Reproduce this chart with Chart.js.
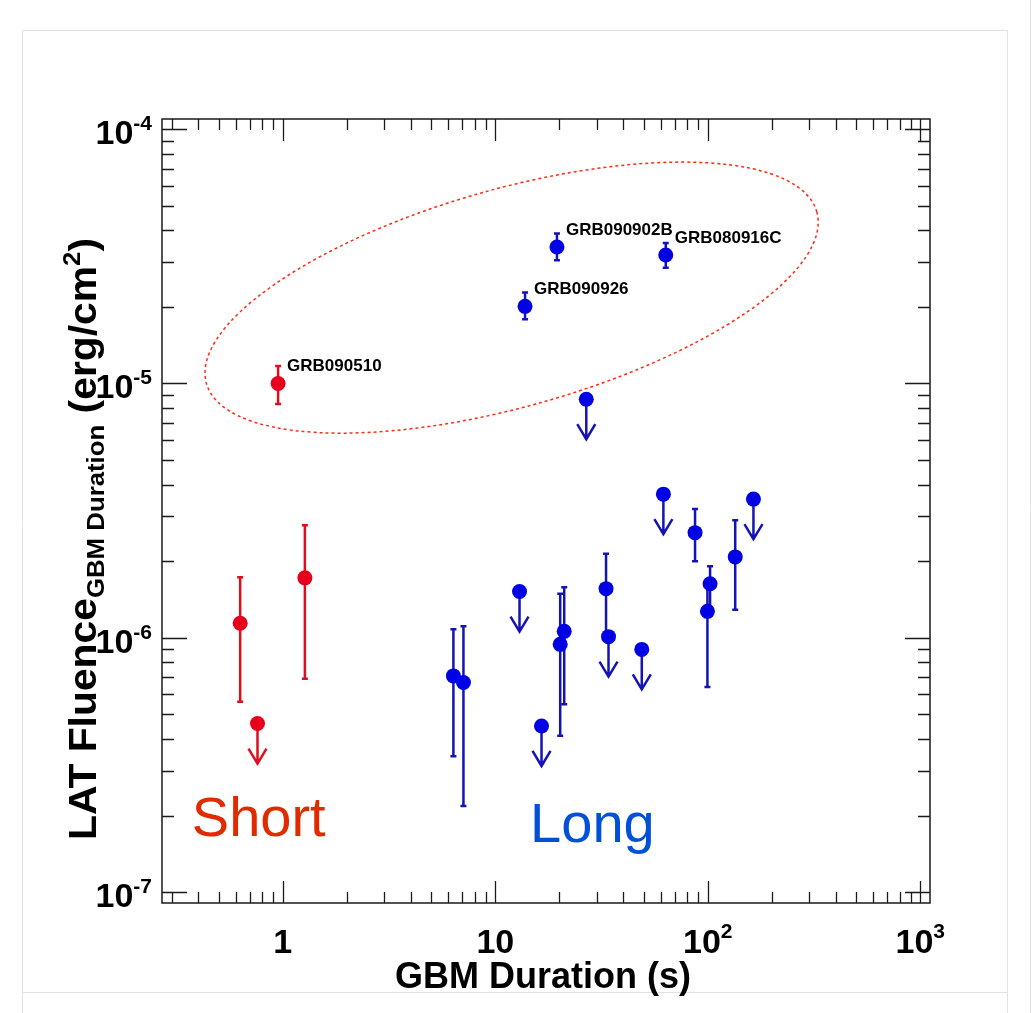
<!DOCTYPE html>
<html><head><meta charset="utf-8">
<script src="https://cdn.jsdelivr.net/npm/chart.js@4.4.1/dist/chart.umd.min.js"></script>
<style>html,body{margin:0;padding:0;background:#fff;overflow:hidden}canvas{display:block}</style>
</head><body>
<canvas id="c" width="1036" height="1013"></canvas>
<script>
// ---------------- data ----------------
const shortDuration    = [0.95, 0.63, 1.27];
const shortFluence     = [1.0e-5, 1.14e-6, 1.72e-6];
const shortFluenceLow  = [8.3e-6, 5.6e-7, 6.9e-7];
const shortFluenceHigh = [1.17e-5, 1.73e-6, 2.77e-6];
const shortNames       = ['GRB090510', '', ''];
const shortLimitDuration = [0.76];
const shortLimitFluence  = [4.6e-7];

const longDuration     = [19.5, 63.4, 13.8, 6.35, 7.08, 20.2, 21.1, 33.2, 87.1, 102.5, 99.6, 134.6];
const longFluence      = [3.44e-5, 3.20e-5, 2.01e-5, 7.08e-7, 6.67e-7, 9.42e-7, 1.06e-6, 1.56e-6, 2.59e-6, 1.63e-6, 1.27e-6, 2.08e-6];
const longFluenceLow   = [3.05e-5, 2.85e-5, 1.79e-5, 3.42e-7, 2.18e-7, 4.12e-7, 5.48e-7, 1.0e-6, 2.0e-6, 1.27e-6, 6.4e-7, 1.29e-6];
const longFluenceHigh  = [3.89e-5, 3.57e-5, 2.28e-5, 1.08e-6, 1.11e-6, 1.49e-6, 1.58e-6, 2.14e-6, 3.21e-6, 1.91e-6, 1.6e-6, 2.9e-6];
const longNames        = ['GRB090902B', 'GRB080916C', 'GRB090926', '', '', '', '', '', '', '', '', ''];
const longLimitDuration = [26.8, 13.0, 16.5, 34.1, 48.9, 61.8, 164];
const longLimitFluence  = [8.67e-6, 1.52e-6, 4.5e-7, 1.01e-6, 9.0e-7, 3.67e-6, 3.51e-6];

const xTickValues = [1, 10, 100, 1000];
const xTickLabels = [['1', ''], ['10', ''], ['10', '2'], ['10', '3']];
const yTickValues = [1e-7, 1e-6, 1e-5, 1e-4];
const yTickLabels = [['10', '-7'], ['10', '-6'], ['10', '-5'], ['10', '-4']];
const xRange = [0.27, 1111];
const yRange = [9.06e-8, 1.096e-4];
const groupLabels = ['Short', 'Long'];
const groupLabelAt = [[0.373, 1.66e-7], [14.58, 1.58e-7]];
const ellipseCenter = [11.93, 2.175e-5];

// ---------------- styles ----------------
const FONT = '"Liberation Sans", Arial, Helvetica, sans-serif';
const RED = '#e6001c', RED_LINE = '#dc0f1e';
const BLUE = '#0000e4', BLUE_LINE = '#1414b4';

function pts(xs, ys) { return xs.map((x, i) => ({x: x, y: ys[i]})); }

const overlay = {
  id: 'overlay',
  beforeDraw(chart) {
    const ctx = chart.ctx;
    ctx.save();
    ctx.fillStyle = '#fff';
    ctx.fillRect(0, 0, chart.width, chart.height);
    ctx.strokeStyle = '#e2e2e2';
    ctx.lineWidth = 1;
    ctx.beginPath();
    ctx.moveTo(22.5, 1013); ctx.lineTo(22.5, 30.5); ctx.lineTo(1007.5, 30.5); ctx.lineTo(1007.5, 1013);
    ctx.moveTo(22.5, 992.5); ctx.lineTo(1007.5, 992.5);
    ctx.moveTo(1030.5, 0); ctx.lineTo(1030.5, 1013);
    ctx.stroke();
    ctx.restore();
  },
  beforeDatasetsDraw(chart) {
    const ctx = chart.ctx, xs = chart.scales.x, ys = chart.scales.y;
    ctx.save();
    ctx.lineWidth = 2.5;
    function bars(dur, lo, hi, col) {
      ctx.strokeStyle = col;
      dur.forEach((d, i) => {
        const x = xs.getPixelForValue(d);
        const y1 = ys.getPixelForValue(lo[i]), y2 = ys.getPixelForValue(hi[i]);
        ctx.beginPath();
        ctx.moveTo(x, y1); ctx.lineTo(x, y2);
        ctx.moveTo(x - 3, y1); ctx.lineTo(x + 3, y1);
        ctx.moveTo(x - 3, y2); ctx.lineTo(x + 3, y2);
        ctx.stroke();
      });
    }
    function arrows(dur, flu, col) {
      ctx.strokeStyle = col;
      dur.forEach((d, i) => {
        const x = xs.getPixelForValue(d), y = ys.getPixelForValue(flu[i]);
        const t = y + 40;
        ctx.beginPath();
        ctx.moveTo(x, y); ctx.lineTo(x, t);
        ctx.moveTo(x - 9, t - 15); ctx.lineTo(x, t); ctx.lineTo(x + 9, t - 15);
        ctx.stroke();
      });
    }
    bars(shortDuration, shortFluenceLow, shortFluenceHigh, RED_LINE);
    bars(longDuration, longFluenceLow, longFluenceHigh, BLUE_LINE);
    arrows(shortLimitDuration, shortLimitFluence, RED_LINE);
    arrows(longLimitDuration, longLimitFluence, BLUE_LINE);
    ctx.restore();
  },
  afterDatasetsDraw(chart) {
    const ctx = chart.ctx, xs = chart.scales.x, ys = chart.scales.y;
    const a = chart.chartArea;
    ctx.save();
    // frame
    ctx.strokeStyle = '#1a1a1a';
    ctx.lineWidth = 1.5;
    ctx.strokeRect(a.left, a.top, a.right - a.left, a.bottom - a.top);
    // ticks
    ctx.lineWidth = 1.3;
    ctx.beginPath();
    for (let e = -2; e <= 3; e++) {
      for (let k = 1; k <= 9; k++) {
        const v = k * Math.pow(10, e);
        if (v < xRange[0] || v > xRange[1]) continue;
        const x = Math.round(xs.getPixelForValue(v)) + 0.5;
        const L = k === 1 ? 22 : 11;
        ctx.moveTo(x, a.bottom); ctx.lineTo(x, a.bottom - L);
        ctx.moveTo(x, a.top); ctx.lineTo(x, a.top + L);
      }
    }
    for (let e = -8; e <= -4; e++) {
      for (let k = 1; k <= 9; k++) {
        const v = k * Math.pow(10, e);
        if (v < yRange[0] || v > yRange[1]) continue;
        const y = Math.round(ys.getPixelForValue(v)) + 0.5;
        const L = k === 1 ? 25 : 12;
        ctx.moveTo(a.left, y); ctx.lineTo(a.left + L, y);
        ctx.moveTo(a.right, y); ctx.lineTo(a.right - L, y);
      }
    }
    ctx.stroke();
    // tick labels
    ctx.fillStyle = '#000';
    const mainF = 'bold 34px ' + FONT, supF = 'bold 21px ' + FONT;
    xTickValues.forEach((v, i) => {
      const [b, s] = xTickLabels[i];
      ctx.font = mainF; const wb = ctx.measureText(b).width;
      ctx.font = supF; const ws = s ? ctx.measureText(s).width : 0;
      const x0 = xs.getPixelForValue(v) - (wb + ws) / 2;
      ctx.textAlign = 'left'; ctx.textBaseline = 'alphabetic';
      ctx.font = mainF; ctx.fillText(b, x0, 953);
      if (s) { ctx.font = supF; ctx.fillText(s, x0 + wb, 953 - 15); }
    });
    yTickValues.forEach((v, i) => {
      const [b, s] = yTickLabels[i];
      const y = ys.getPixelForValue(v);
      ctx.font = supF; const ws = ctx.measureText(s).width;
      ctx.font = mainF; const wb = ctx.measureText(b).width;
      const xe = 152;
      ctx.textAlign = 'left'; ctx.textBaseline = 'alphabetic';
      ctx.fillText(b, xe - ws - wb, y + 15);
      ctx.font = supF; ctx.fillText(s, xe - ws, y + 15 - 14);
    });
    // x title
    ctx.font = 'bold 36px ' + FONT;
    ctx.textAlign = 'center';
    ctx.fillText('GBM Duration (s)', 543, 988);
    // y title (rotated, with subscript and superscript)
    const segs = [
      ['LAT Fluence', 38, 0],
      ['GBM Duration', 24, 8],
      [' (erg/cm', 38, 0],
      ['2', 24, -16],
      [')', 38, 0]
    ];
    let total = 0;
    segs.forEach(s => { ctx.font = 'bold ' + s[1] + 'px ' + FONT; s.push(ctx.measureText(s[0]).width); total += s[3]; });
    const target = 602, k = target / total;
    ctx.save();
    ctx.translate(96, 539);
    ctx.rotate(-Math.PI / 2);
    ctx.scale(k, 1);
    ctx.textAlign = 'left';
    let cx = -total / 2;
    segs.forEach(s => {
      ctx.font = 'bold ' + s[1] + 'px ' + FONT;
      ctx.fillText(s[0], cx, s[2]);
      cx += s[3];
    });
    ctx.restore();
    // ellipse
    ctx.save();
    ctx.strokeStyle = '#ff2a14';
    ctx.lineWidth = 1.5;
    ctx.setLineDash([3, 3]);
    ctx.beginPath();
    ctx.ellipse(xs.getPixelForValue(ellipseCenter[0]), ys.getPixelForValue(ellipseCenter[1]), 317, 109, -15.7 * Math.PI / 180, 0, 2 * Math.PI);
    ctx.stroke();
    ctx.restore();
    // burst names
    ctx.font = 'bold 17px ' + FONT;
    ctx.textAlign = 'left'; ctx.textBaseline = 'middle';
    ctx.fillStyle = '#000';
    function names(dur, flu, nm) {
      dur.forEach((d, i) => {
        if (!nm[i]) return;
        ctx.fillText(nm[i], xs.getPixelForValue(d) + 9, ys.getPixelForValue(flu[i]) - 17);
      });
    }
    names(shortDuration, shortFluence, shortNames);
    names(longDuration, longFluence, longNames);
    // group labels
    ctx.textBaseline = 'alphabetic';
    ctx.font = '56px ' + FONT;
    ctx.fillStyle = '#e02a00';
    ctx.fillText(groupLabels[0], xs.getPixelForValue(groupLabelAt[0][0]), ys.getPixelForValue(groupLabelAt[0][1]));
    ctx.fillStyle = '#0050d8';
    ctx.fillText(groupLabels[1], xs.getPixelForValue(groupLabelAt[1][0]), ys.getPixelForValue(groupLabelAt[1][1]));
    ctx.restore();
  }
};

new Chart(document.getElementById('c'), {
  type: 'scatter',
  data: {
    datasets: [
      {label: 'Short', data: pts(shortDuration, shortFluence), backgroundColor: RED, borderColor: RED, pointRadius: 7.5, borderWidth: 0},
      {label: 'Short UL', data: pts(shortLimitDuration, shortLimitFluence), backgroundColor: RED, borderColor: RED, pointRadius: 7.5, borderWidth: 0},
      {label: 'Long', data: pts(longDuration, longFluence), backgroundColor: BLUE, borderColor: BLUE, pointRadius: 7.5, borderWidth: 0},
      {label: 'Long UL', data: pts(longLimitDuration, longLimitFluence), backgroundColor: BLUE, borderColor: BLUE, pointRadius: 7.5, borderWidth: 0}
    ]
  },
  options: {
    responsive: false,
    animation: false,
    events: [],
    layout: {padding: {left: 162, top: 119, right: 106, bottom: 110}},
    plugins: {legend: {display: false}, tooltip: {enabled: false}},
    scales: {
      x: {type: 'logarithmic', min: xRange[0], max: xRange[1], display: false},
      y: {type: 'logarithmic', min: yRange[0], max: yRange[1], display: false}
    }
  },
  plugins: [overlay]
});
</script>
</body></html>
